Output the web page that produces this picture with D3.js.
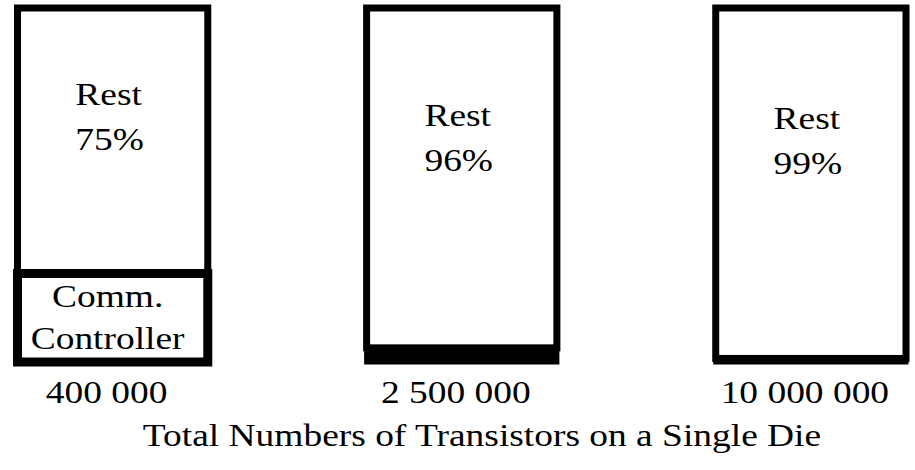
<!DOCTYPE html>
<html>
<head>
<meta charset="utf-8">
<script src="https://cdn.jsdelivr.net/npm/d3@7"></script>
<style>
  html, body { margin: 0; padding: 0; background: #fff; }
  svg { display: block; }
  text { font-family: "Liberation Serif", "Times New Roman", serif; fill: #000; }
</style>
</head>
<body>
<div id="chart"></div>
<script>
// ---- data ----
const categories = ["400 000", "2 500 000", "10 000 000"];
const commShare = [25, 4, 1];          // % of die used by communication controller
const restShare = [75, 96, 99];        // % for the rest
const segmentLabels = ["Rest", "Comm.\nController"];
const axisTitle = "Total Numbers of Transistors on a Single Die";

// ---- layout ----
const W = 915, H = 470;
const fontSize = 32, stretch = 1.17;

const svg = d3.select("#chart").append("svg")
  .attr("width", W).attr("height", H);

const x = d3.scaleBand()
  .domain(categories)
  .range([17.5, 906])
  .paddingInner(0.455)
  .paddingOuter(0);

const y = d3.scaleLinear().domain([0, 100]).range([362, 8]);

const data = categories.map((c, i) => ({ cat: c, comm: commShare[i], rest: restShare[i] }));

function stretchedText(sel, tx, ty, str) {
  sel.append("g")
    .attr("transform", `translate(${tx},${ty}) scale(${stretch},1)`)
    .append("text")
    .attr("text-anchor", "middle")
    .attr("font-size", fontSize)
    .text(str);
}

const bars = svg.selectAll("g.bar").data(data).join("g").attr("class", "bar");

bars.each(function (d) {
  const g = d3.select(this);
  const x0 = x(d.cat), bw = x.bandwidth(), cx = x0 + bw / 2;
  const commTop = y(d.comm), total = y(d.comm + d.rest);

  // rest segment
  g.append("rect")
    .attr("x", x0).attr("y", total)
    .attr("width", bw).attr("height", commTop - total)
    .attr("fill", "#fff").attr("stroke", "#000").attr("stroke-width", 7);

  // comm segment
  const ch = y(0) - commTop;
  const labelled = ch > 60;
  g.append("rect")
    .attr("x", x0).attr("y", commTop)
    .attr("width", bw).attr("height", ch)
    .attr("fill", labelled ? "#fff" : "#000")
    .attr("stroke", "#000").attr("stroke-width", labelled ? 9 : 5);

  // rest label
  const rh = commTop - total;
  const b1 = total + 0.28 * rh + 22.5;
  stretchedText(g, cx - 4, b1, segmentLabels[0]);
  stretchedText(g, cx - 3, b1 + 45, d.rest + "%");

  if (labelled) {
    const lines = segmentLabels[1].split("\n");
    const mid = (commTop + y(0)) / 2;
    stretchedText(g, cx - 5, mid - 11, lines[0]);
    stretchedText(g, cx - 5, mid + 31, lines[1]);
  }
});

// category axis (labels only)
const axisG = svg.append("g").attr("transform", `translate(0,${y(0)})`)
  .call(d3.axisBottom(x).tickSize(0).tickPadding(0));
axisG.select(".domain").remove();
axisG.selectAll(".tick").each(function (d) {
  const t = d3.select(this);
  t.select("text").remove();
  stretchedText(t, -6, 41, d);
});

stretchedText(svg, 482, 446, axisTitle);
</script>
</body>
</html>
